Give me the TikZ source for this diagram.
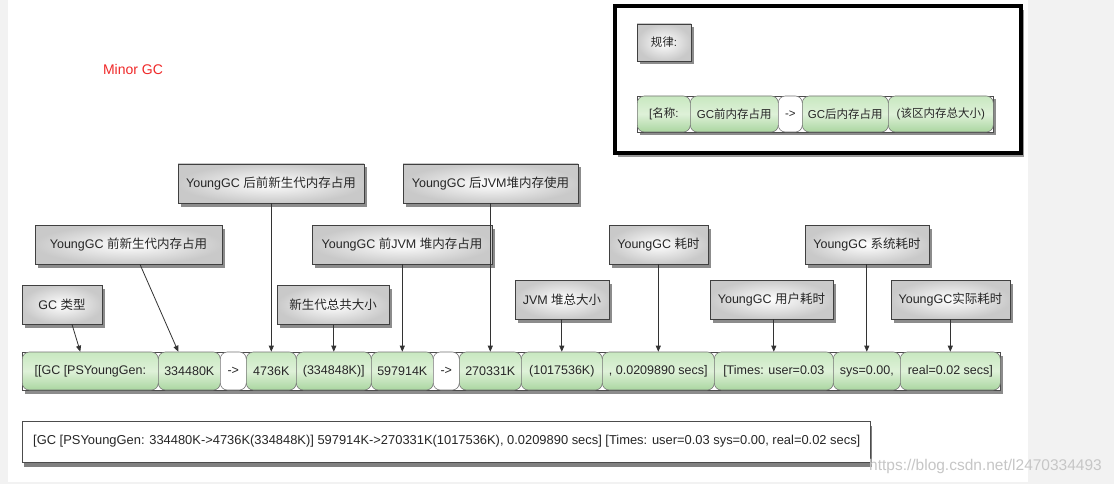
\documentclass[tikz,border=0pt]{standalone}
\usepackage{fontspec}
\setmainfont{Liberation Sans}
\newfontfamily\cjk{Noto Sans CJK SC}
\newcommand\zh[1]{{\cjk #1}}
\usetikzlibrary{shadows,arrows.meta}
\definecolor{pagebg}{RGB}{242,242,242}
\definecolor{gtop}{RGB}{200,232,192}
\definecolor{gmid}{RGB}{222,241,216}
\definecolor{gbot}{RGB}{170,214,160}
\definecolor{minorred}{RGB}{240,40,40}
\tikzset{
  shad/.style={drop shadow={shadow xshift=2.5pt,shadow yshift=-3.5pt,fill=black!45,opacity=1}},
  callout/.style={draw=black!75, line width=0.8pt, inner color=white, outer color=gray!42,
    minimum height=39pt, inner sep=0pt, text=black!85, shad,
    font=\fontsize{12.5}{14}\selectfont},
  barbox/.style={draw=black!70, line width=0.8pt, fill=white, inner sep=0pt, shad},
  cell/.style={draw=black!55, line width=0.6pt, rounded corners=7pt, top color=gtop,
    bottom color=gbot, middle color=gmid, minimum height=38pt, inner sep=0pt,
    anchor=west, text=black!85, font=\fontsize{12.5}{14}\selectfont},
  wcell/.style={cell, top color=white, bottom color=white, middle color=white},
  scell/.style={cell, minimum height=36pt, font=\fontsize{11.5}{13}\selectfont},
  swcell/.style={wcell, minimum height=36pt, font=\fontsize{11.5}{13}\selectfont},
  arr/.style={draw=black!80, line width=0.8pt, -{Triangle[length=6pt,width=5pt]}},
}
\begin{document}
\begin{tikzpicture}[x=1pt,y=-1pt]
\useasboundingbox (0,0) rectangle (1114,484);
\fill[pagebg] (0,0) rectangle (1114,484);
\fill[white] (8,0) rectangle (1028,482);

% title
\node[text=minorred, font=\fontsize{14}{16}\selectfont] (title) at (133,69) {Minor GC};

% rule box
\node[draw=black, line width=4pt, fill=white, minimum width=406pt, minimum height=147pt,
  inner sep=0pt, drop shadow={shadow xshift=2.5pt,shadow yshift=-4pt,fill=black!40,opacity=1}] (rulebox) at (818,79.5) {};
\node[callout, minimum width=54pt, minimum height=37pt, font=\fontsize{11.5}{13}\selectfont] (rule) at (664,42.5) {\zh{规律}:};
\node[barbox, minimum width=356pt, minimum height=36pt] (sbar) at (815,114) {};
\node[scell, minimum width=53pt] (r1) at (637,114) {[\zh{名称}:};
\node[scell, minimum width=88pt] (r2) at (690,114) {GC\zh{前内存占用}};
\node[swcell, minimum width=24pt] (r3) at (778,114) {->};
\node[scell, minimum width=86pt] (r4) at (802,114) {GC\zh{后内存占用}};
\node[scell, minimum width=105pt] (r5) at (888,114) {(\zh{该区内存总大小})};

% main bar
\node[barbox, minimum width=978pt, minimum height=38pt] (bar) at (511,371) {};
\node[cell, minimum width=136pt] (c1) at (22,371) {[[GC [PSYoungGen:};
\node[cell, minimum width=62pt] (c2) at (158,371) {334480K};
\node[wcell, minimum width=26pt] (c3) at (220,371) {->};
\node[cell, minimum width=50pt] (c4) at (246,371) {4736K};
\node[cell, minimum width=75pt] (c5) at (296,371) {(334848K)]};
\node[cell, minimum width=62pt] (c6) at (371,371) {597914K};
\node[wcell, minimum width=26pt] (c7) at (433,371) {->};
\node[cell, minimum width=62pt] (c8) at (459,371) {270331K};
\node[cell, minimum width=81pt] (c9) at (521,371) {(1017536K)};
\node[cell, minimum width=112pt] (c10) at (602,371) {, 0.0209890 secs]};
\node[cell, minimum width=119pt] (c11) at (714,371) {[Times: user=0.03};
\node[cell, minimum width=67pt] (c12) at (833,371) {sys=0.00,};
\node[cell, minimum width=100pt] (c13) at (900,371) {real=0.02 secs]};

% callouts
\node[callout, minimum width=80pt] (gctype) at (62,304.5) {GC \zh{类型}};
\node[callout, minimum width=187pt] (preyoung) at (128.5,244.5) {YoungGC \zh{前新生代内存占用}};
\node[callout, minimum width=186pt] (postyoung) at (271,183.5) {YoungGC \zh{后前新生代内存占用}};
\node[callout, minimum width=112pt] (youngtotal) at (333,305) {\zh{新生代总共大小}};
\node[callout, minimum width=180pt] (prejvm) at (402,244.5) {YoungGC \zh{前}JVM \zh{堆内存占用}};
\node[callout, minimum width=175pt] (postjvm) at (490.5,183.5) {YoungGC \zh{后}JVM\zh{堆内存使用}};
\node[callout, minimum width=94pt] (jvmtotal) at (562,299.5) {JVM \zh{堆总大小}};
\node[callout, minimum width=99pt] (gctime) at (658.5,244.5) {YoungGC \zh{耗时}};
\node[callout, minimum width=123pt] (usertime) at (771.5,299.5) {YoungGC \zh{用户耗时}};
\node[callout, minimum width=124pt] (systime) at (867,244.5) {YoungGC \zh{系统耗时}};
\node[callout, minimum width=119pt] (realtime) at (950.5,299.5) {YoungGC\zh{实际耗时}};

% connectors
\draw[arr] ([xshift=10pt]gctype.south) -- ([xshift=-10pt]c1.north);
\draw[arr] ([xshift=11.5pt]preyoung.south) -- ([xshift=-11pt]c2.north);
\draw[arr] (postyoung.south -| c4.north) -- (c4.north);
\draw[arr] (youngtotal.south -| c5.north) -- (c5.north);
\draw[arr] (prejvm.south -| c6.north) -- (c6.north);
\draw[arr] (postjvm.south -| c8.north) -- (c8.north);
\draw[arr] (jvmtotal.south -| c9.north) -- (c9.north);
\draw[arr] (gctime.south -| c10.north) -- (c10.north);
\draw[arr] (usertime.south -| c11.north) -- (c11.north);
\draw[arr] (systime.south -| c12.north) -- (c12.north);
\draw[arr] (realtime.south -| c13.north) -- (c13.north);

% log line
\node[draw=black!70, line width=0.8pt, fill=white, minimum width=848pt, minimum height=41pt,
  inner sep=0pt, drop shadow={shadow xshift=2pt,shadow yshift=-5pt,fill=black!50,opacity=1}] (logbox) at (446,441.5) {};
\node[anchor=west, inner sep=0pt, text=black!85, font=\fontsize{12.9}{14}\selectfont] (logtext) at (33,441.5)
  {[GC [PSYoungGen: 334480K->4736K(334848K)] 597914K->270331K(1017536K), 0.0209890 secs] [Times: user=0.03 sys=0.00, real=0.02 secs]};

% watermark
\node[text=gray!45, font=\fontsize{15.5}{17}\selectfont] (wm) at (985.5,466) {https://blog.csdn.net/l2470334493};
\end{tikzpicture}
\end{document}
